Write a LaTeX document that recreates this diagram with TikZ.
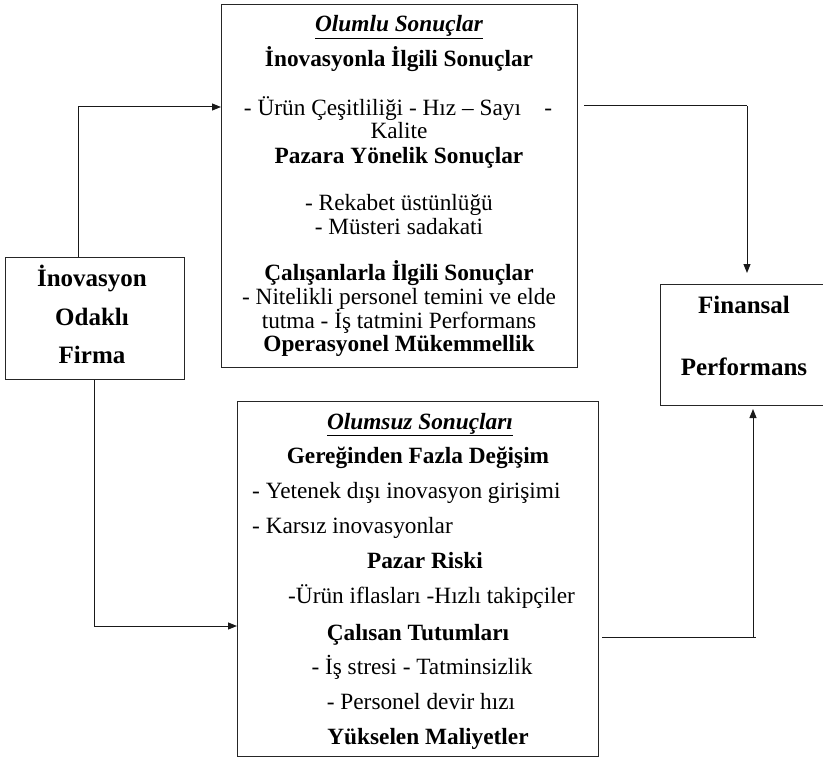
\documentclass[tikz,border=0pt]{standalone}
\usepackage{fontspec}
\setmainfont{Liberation Serif}
\usetikzlibrary{arrows.meta}
\begin{document}
\begin{tikzpicture}[x=1pt,y=-1pt,
  box/.style={draw=black!85,line width=1.1pt,inner sep=0pt,anchor=north west},
  conn/.style={line width=1pt,draw=black!90},
  arr/.style={conn,-{Triangle[length=9pt,width=7pt]}},
  txt/.style={inner sep=0pt,anchor=base,font=\fontsize{23.3}{26}\selectfont},
  ltxt/.style={txt,anchor=base west},
  btxt/.style={txt,font=\fontsize{23.3}{26}\selectfont\bfseries},
  bigtxt/.style={txt,font=\fontsize{25}{28}\selectfont\bfseries},
  ttl/.style={txt,font=\fontsize{23.3}{26}\selectfont\bfseries\itshape}]
\useasboundingbox (0,0) rectangle (823,760);
\clip (0,0) rectangle (823,760);
% boxes
\node[box,minimum width=356pt,minimum height=363pt] (pos) at (221,4) {};
\node[box,minimum width=179pt,minimum height=122pt] (inov) at (5,257) {};
\node[box,minimum width=168pt,minimum height=121pt] (fin) at (660,284) {};
\node[box,minimum width=361pt,minimum height=355pt] (neg) at (237,401) {};
% connectors
\coordinate (c1) at (78,107);
\draw[arr] (inov.north -| c1) -- (c1) -- (pos.west |- c1);
\coordinate (c2) at (584,106);
\coordinate (c3) at (747,106);
\coordinate (c4) at (747,273);
\draw[conn] (c2) -- (c3);
\draw[arr] (c3) -- (c4);
\coordinate (c5) at (94.5,626);
\draw[arr] (inov.south -| c5) -- (c5) -- (neg.west |- c5);
\coordinate (c6) at (602,637);
\coordinate (c7) at (756,637);
\coordinate (c8) at (753,637);
\coordinate (c9) at (753,409);
\draw[conn] (c6) -- (c7);
\draw[arr] (c8) -- (c9);
% top box text
\node[ttl] (t1) at (399,32) {\underline{Olumlu Sonuçlar}};
\node[btxt] (t2) at (399,67) {İnovasyonla İlgili Sonuçlar};
\node[txt] (t3) at (398,116) {- Ürün Çeşitliliği - Hız – Sayı \ \ \ -};
\node[txt] (t4) at (399,139) {Kalite};
\node[btxt] (t5) at (399,163) {Pazara Yönelik Sonuçlar};
\node[txt] (t6) at (399,210) {- Rekabet üstünlüğü};
\node[txt] (t7) at (399,234) {- Müsteri sadakati};
\node[btxt] (t8) at (399,280) {Çalışanlarla İlgili Sonuçlar};
\node[txt] (t9) at (399,304) {- Nitelikli personel temini ve elde};
\node[txt] (t10) at (399,328) {tutma - İş tatmini Performans};
\node[btxt] (t11) at (399,351) {Operasyonel Mükemmellik};
% left box text
\node[bigtxt] (l1) at (92,286) {İnovasyon};
\node[bigtxt] (l2) at (92,325) {Odaklı};
\node[bigtxt] (l3) at (92,363) {Firma};
% right box text
\node[bigtxt] (r1) at (744,313) {Finansal};
\node[bigtxt] (r2) at (744,375) {Performans};
% bottom box text
\node[ttl] (b1) at (420,429) {\underline{Olumsuz Sonuçları}};
\node[btxt] (b2) at (418,463) {Gereğinden Fazla Değişim};
\node[ltxt] (b3) at (252,498) {- Yetenek dışı inovasyon girişimi};
\node[ltxt] (b4) at (252,533) {- Karsız inovasyonlar};
\node[btxt] (b5) at (425,568) {Pazar Riski};
\node[ltxt] (b6) at (288,603) {-Ürün iflasları -Hızlı takipçiler};
\node[btxt] (b7) at (418,640) {Çalısan Tutumları};
\node[txt] (b8) at (422,674) {- İş stresi - Tatminsizlik};
\node[txt] (b9) at (421,709) {- Personel devir hızı};
\node[btxt] (b10) at (428,744) {Yükselen Maliyetler};
\end{tikzpicture}
\end{document}
